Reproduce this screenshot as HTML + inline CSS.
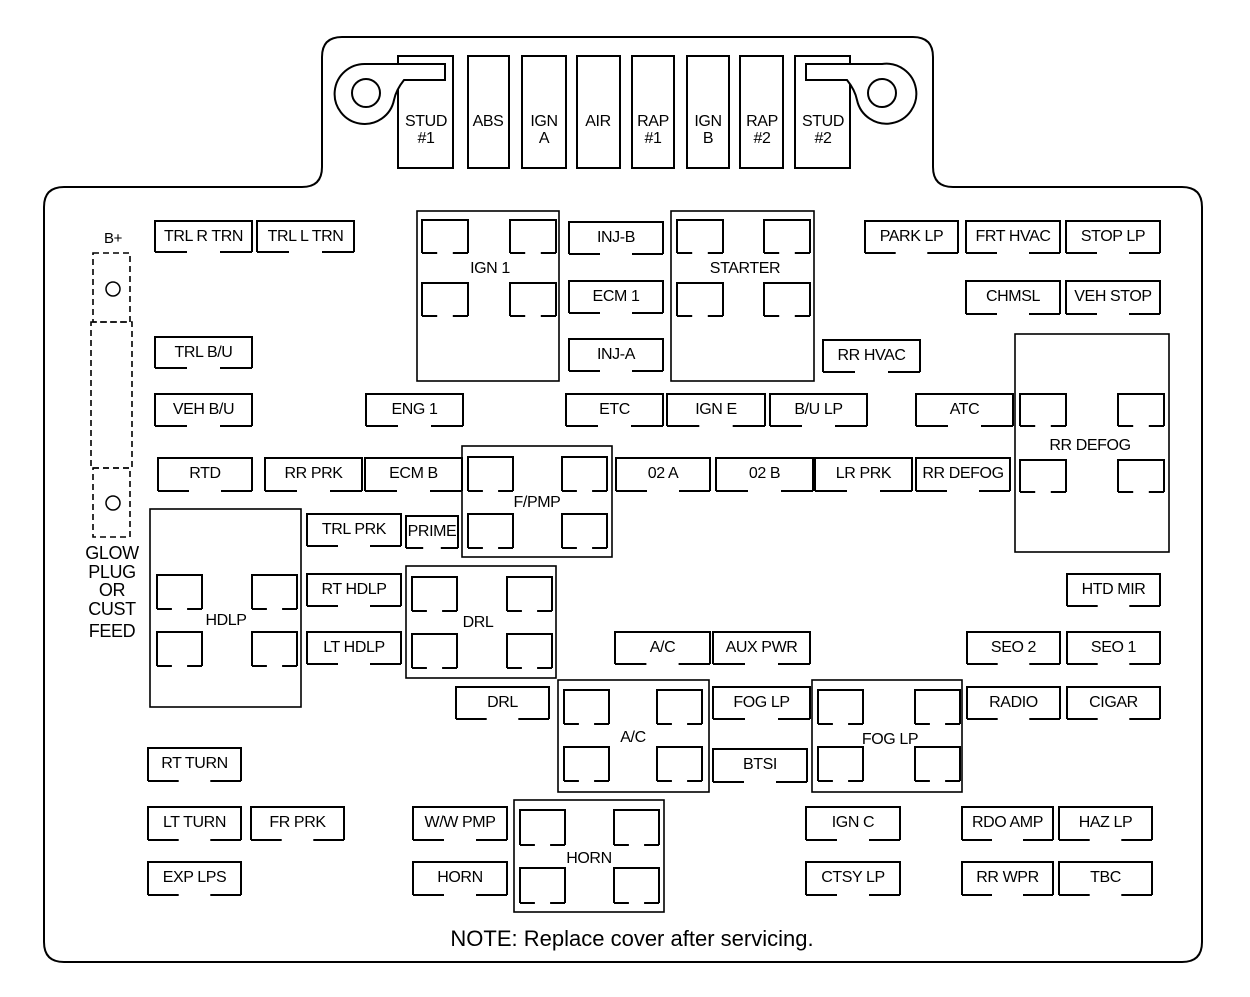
<!DOCTYPE html>
<html><head><meta charset="utf-8"><style>
html,body{margin:0;padding:0;background:#fff;}
svg text{font-family:"Liberation Sans Narrow","Liberation Sans",sans-serif;fill:#000;letter-spacing:-0.4px;}
</style></head><body>
<svg id="s" width="1250" height="992" viewBox="0 0 1250 992" xmlns="http://www.w3.org/2000/svg">
<path d="M44,207 Q44,187 64,187 L302,187 Q322,187 322,167 L322,57 Q322,37 342,37 L913,37 Q933,37 933,57 L933,167 Q933,187 953,187 L1182,187 Q1202,187 1202,207 L1202,942 Q1202,962 1182,962 L64,962 Q44,962 44,942 Z" fill="none" stroke="#000" stroke-width="2"/>
<g fill="none" stroke="#000" stroke-width="2">
<rect x="398" y="56" width="55" height="112"/>
<rect x="468" y="56" width="41" height="112"/>
<rect x="522" y="56" width="44" height="112"/>
<rect x="577" y="56" width="43" height="112"/>
<rect x="632" y="56" width="42" height="112"/>
<rect x="687" y="56" width="42" height="112"/>
<rect x="740" y="56" width="43" height="112"/>
<rect x="795" y="56" width="55" height="112"/>
<path d="M366,64 L445,64 L445,80 L404,80 Q396,90 394,100 A30,30 0 1 1 366,64 Z" fill="#fff"/>
<circle cx="366" cy="93" r="14"/>
<path d="M882,64 L806,64 L806,80 L847,80 Q855,90 857,100 A30,30 0 1 0 882,64 Z" fill="#fff"/>
<circle cx="882" cy="93" r="14"/>
</g>
<g font-size="16" text-anchor="middle">
<text x="426" y="126">STUD</text><text x="426" y="143">#1</text>
<text x="488" y="126">ABS</text>
<text x="544" y="126">IGN</text><text x="544" y="143">A</text>
<text x="598" y="126">AIR</text>
<text x="653" y="126">RAP</text><text x="653" y="143">#1</text>
<text x="708" y="126">IGN</text><text x="708" y="143">B</text>
<text x="762" y="126">RAP</text><text x="762" y="143">#2</text>
<text x="823" y="126">STUD</text><text x="823" y="143">#2</text>
</g>
<g fill="none" stroke="#000" stroke-width="1.6" stroke-dasharray="6,4">
<rect x="93" y="253" width="37" height="69"/>
<rect x="91" y="322" width="41" height="146"/>
<rect x="93" y="468" width="37" height="69"/>
</g>
<circle cx="113" cy="289" r="7" fill="none" stroke="#000" stroke-width="1.5"/>
<circle cx="113" cy="503" r="7" fill="none" stroke="#000" stroke-width="1.5"/>
<g font-size="18" text-anchor="middle">
<text x="113" y="243" font-size="15">B+</text>
<text x="112" y="559">GLOW</text><text x="112" y="578">PLUG</text><text x="112" y="596">OR</text><text x="112" y="615">CUST</text><text x="112" y="637">FEED</text>
</g>
<text x="632" y="946" font-size="22" text-anchor="middle" style="font-family:'Liberation Sans',sans-serif;letter-spacing:0">NOTE: Replace cover after servicing.</text>
<g id="g"></g>
</svg>
<script>
var g=document.getElementById('g'),h='';
function fz(x1,y1,x2,y2,lab,ty){
 var w=x2-x1,s=w*0.33;
 h+='<path d="M'+x1+','+y2+' V'+y1+' H'+x2+' V'+y2+' M'+x1+','+y2+' h'+s.toFixed(1)+' M'+x2+','+y2+' h-'+s.toFixed(1)+'" fill="none" stroke="#000" stroke-width="2"/>';
 if(lab) h+='<text x="'+((x1+x2)/2)+'" y="'+(y1+(ty||20))+'" font-size="16" text-anchor="middle">'+lab+'</text>';
}
var F=[[155,221,252,252,'TRL R TRN'],[257,221,354,252,'TRL L TRN'],[155,337,252,368,'TRL B/U'],[155,394,252,426,'VEH B/U'],
[158,458,252,491,'RTD'],[265,458,362,491,'RR PRK'],[365,458,462,491,'ECM B'],[366,394,463,426,'ENG 1'],
[569,222,663,254,'INJ-B'],[569,281,663,313,'ECM 1'],[569,339,663,371,'INJ-A'],[566,394,663,426,'ETC'],[667,394,765,426,'IGN E'],[770,394,867,426,'B/U LP'],[916,394,1013,426,'ATC'],
[616,458,710,491,'02 A'],[716,458,813,491,'02 B'],[815,458,912,491,'LR PRK'],[916,458,1010,491,'RR DEFOG'],
[865,221,958,253,'PARK LP'],[966,221,1060,253,'FRT HVAC'],[1066,221,1160,253,'STOP LP'],[966,281,1060,314,'CHMSL'],[1066,281,1160,314,'VEH STOP'],[823,340,920,372,'RR HVAC'],
[307,514,401,546,'TRL PRK'],[406,516,458,548,'PRIME'],[307,574,401,606,'RT HDLP'],[307,632,401,664,'LT HDLP'],[1067,574,1160,606,'HTD MIR'],
[615,632,710,664,'A/C'],[713,632,810,664,'AUX PWR'],[967,632,1060,664,'SEO 2'],[1067,632,1160,664,'SEO 1'],
[456,687,549,719,'DRL'],[713,687,810,719,'FOG LP'],[967,687,1060,719,'RADIO'],[1067,687,1160,719,'CIGAR'],[713,749,807,782,'BTSI'],
[148,748,241,781,'RT TURN'],[148,807,241,840,'LT TURN'],[251,807,344,840,'FR PRK'],[148,862,241,895,'EXP LPS'],
[413,807,507,840,'W/W PMP'],[413,862,507,895,'HORN'],[806,807,900,840,'IGN C'],[806,862,900,895,'CTSY LP'],
[962,807,1053,840,'RDO AMP'],[1059,807,1152,840,'HAZ LP'],[962,862,1053,895,'RR WPR'],[1059,862,1152,895,'TBC']];
F.forEach(function(f){fz(f[0],f[1],f[2],f[3],f[4]);});
function relay(x1,y1,x2,y2,lab,lx,ly,sk){
 h+='<rect x="'+x1+'" y="'+y1+'" width="'+(x2-x1)+'" height="'+(y2-y1)+'" fill="none" stroke="#000" stroke-width="1.6"/>';
 sk.forEach(function(k){fz(k[0],k[1],k[2],k[3]);});
 h+='<text x="'+lx+'" y="'+ly+'" font-size="16" text-anchor="middle">'+lab+'</text>';
}
function sq(a,b,c,d,e,f,w,hh){return [[a,c,a+w,c+hh],[b,c,b+w,c+hh],[a,d,a+w,d+hh],[b,d,b+w,d+hh]];}
relay(417,211,559,381,'IGN 1',490,273,sq(422,510,220,283,0,0,46,33));
relay(671,211,814,381,'STARTER',745,273,sq(677,764,220,283,0,0,46,33));
relay(1015,334,1169,552,'RR DEFOG',1090,450,sq(1020,1118,394,460,0,0,46,32));
relay(462,446,612,557,'F/PMP',537,507,sq(468,562,457,514,0,0,45,34));
relay(150,509,301,707,'HDLP',226,625,sq(157,252,575,632,0,0,45,34));
relay(406,566,556,678,'DRL',478,627,sq(412,507,577,634,0,0,45,34));
relay(558,680,709,792,'A/C',633,742,sq(564,657,690,747,0,0,45,34));
relay(812,680,962,792,'FOG LP',890,744,sq(818,915,690,747,0,0,45,34));
relay(514,800,664,912,'HORN',589,863,sq(520,614,810,868,0,0,45,35));
g.innerHTML=h;
</script>
</body></html>
